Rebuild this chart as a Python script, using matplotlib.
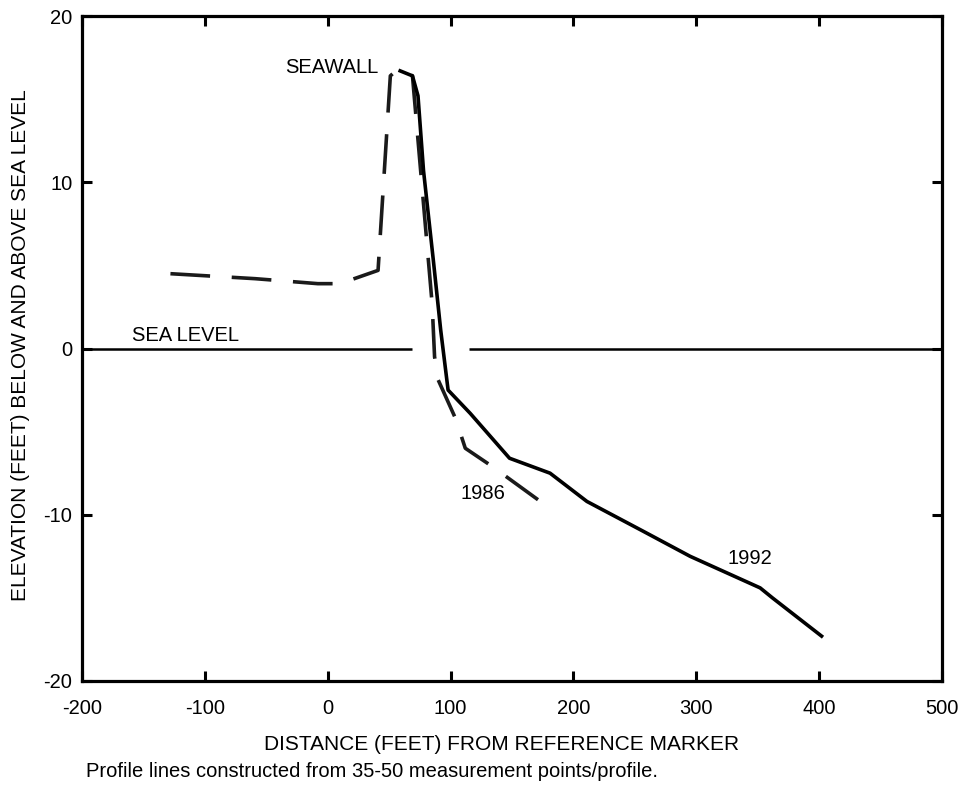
import matplotlib.pyplot as plt

plt.rcParams['font.family'] = ['Liberation Sans', 'DejaVu Sans']
plt.rcParams['axes.unicode_minus'] = False

# 1986 profile (dashed)
x_1986 = [-128, -59, -8, 10, 41, 51, 57, 69, 85, 87, 90, 104, 112, 134, 175]
y_1986 = [4.5, 4.2, 3.9, 3.9, 4.7, 16.4, 16.8, 16.4, 2.7, -0.5, -1.9, -4.2, -6.0, -7.1, -9.3]

# 1992 profile (solid)
x_1992 = [59, 69, 73.5, 78, 86, 92, 98, 116, 148, 181, 211, 257, 295, 352, 362, 402]
y_1992 = [16.7, 16.4, 15.2, 10.7, 5.3, 1.1, -2.5, -3.9, -6.6, -7.5, -9.2, -11.0, -12.5, -14.4, -15.0, -17.3]

# sea level line, broken where it crosses the seawall
sea_x_left = [-200, 68.6]
sea_x_right = [115, 500]

x_ticks = [-200, -100, 0, 100, 200, 300, 400, 500]
y_ticks = [-20, -10, 0, 10, 20]

fig = plt.figure(figsize=(9.61, 7.85), dpi=100)
ax = fig.add_axes([0.0853, 0.1325, 0.8949, 0.8471])

ax.plot(sea_x_left, [0, 0], color='black', lw=1.8, solid_capstyle='butt')
ax.plot(sea_x_right, [0, 0], color='black', lw=1.8, solid_capstyle='butt')
ax.plot(x_1986, y_1986, color='#1a1a1a', lw=2.6, dashes=(11, 6))
ax.plot(x_1992, y_1992, color='black', lw=2.6)

ax.text(-159, 0.45, 'SEA LEVEL', fontsize=14.5, va='baseline', ha='left')
ax.text(41, 16.9, 'SEAWALL', fontsize=14.5, va='center', ha='right')
ax.text(126, -8.7, '1986', fontsize=14.5, va='center', ha='center')
ax.text(344, -12.65, '1992', fontsize=14.5, va='center', ha='center')

ax.set_xlim(-200, 500)
ax.set_ylim(-20, 20)
ax.set_xticks(x_ticks)
ax.set_yticks(y_ticks)
ax.tick_params(direction='in', length=7, width=2.2, top=True, right=True, labelsize=14.5)
ax.tick_params(axis='x', pad=13)
ax.tick_params(axis='y', pad=7)
for s in ax.spines.values():
    s.set_linewidth(2.3)

fig.text(0.522, 0.051, 'DISTANCE (FEET) FROM REFERENCE MARKER', fontsize=15, ha='center', va='center')
fig.text(0.09, 0.017, 'Profile lines constructed from 35-50 measurement points/profile.',
         fontsize=14.5, ha='left', va='center')
fig.text(0.021, 0.56, 'ELEVATION (FEET) BELOW AND ABOVE SEA LEVEL', fontsize=15,
         rotation=90, ha='center', va='center')

plt.savefig('out.png', dpi=100)
